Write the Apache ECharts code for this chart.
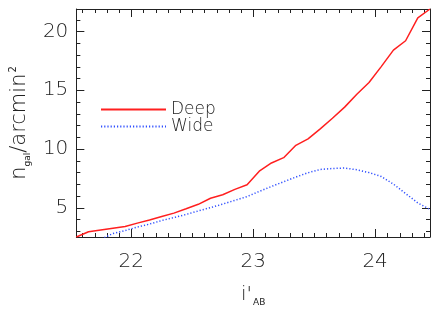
<!DOCTYPE html>
<html>
<head>
<meta charset="utf-8">
<script src="https://cdn.jsdelivr.net/npm/echarts@6/dist/echarts.min.js"></script>
<style>html,body{margin:0;padding:0;background:#fff}#c{width:436px;height:312px}</style>
</head>
<body>
<div id="c"></div>
<script>
const magnitudes = [21.55, 21.65, 21.75, 21.85, 21.95, 22.05, 22.15, 22.25, 22.35, 22.45,
  22.55, 22.65, 22.75, 22.85, 22.95, 23.05, 23.15, 23.25, 23.35, 23.45,
  23.55, 23.65, 23.75, 23.85, 23.95, 24.05, 24.15, 24.25, 24.35, 24.45];
const deepDensity = [2.5, 2.95, 3.1, 3.25, 3.4, 3.68, 3.95, 4.25, 4.53, 4.9,
  5.28, 5.8, 6.09, 6.55, 6.95, 8.1, 8.8, 9.25, 10.3, 10.85,
  11.7, 12.6, 13.55, 14.65, 15.65, 17.0, 18.4, 19.2, 21.15, 21.9];
const wideDensity = [1.9, 2.1, 2.3, 2.8, 3.05, 3.35, 3.6, 3.9, 4.15, 4.42,
  4.72, 5.0, 5.3, 5.62, 5.94, 6.38, 6.8, 7.2, 7.6, 7.97,
  8.25, 8.33, 8.37, 8.22, 7.98, 7.65, 7.0, 6.2, 5.4, 4.85];
const seriesNames = ['Deep', 'Wide'];
const xTickLabels = [22, 23, 24];
const yTickLabels = [5, 10, 15, 20];
const xRange = [21.55, 24.45];
const yRange = [2.5, 21.9];

// minor tick positions (every 0.1 mag on x, every 1 on y)
const xMinor = [];
for (let k = 216; k <= 244; k++) { if (k % 10 !== 0) xMinor.push(k / 10); }
const yMinor = [];
for (let k = 3; k <= 21; k++) { if (k % 5 !== 0) yMinor.push(k); }

const MAJOR_LEN = 8, MINOR_LEN = 4;
const xTickData = xTickLabels.map(v => [v, MAJOR_LEN]).concat(xMinor.map(v => [v, MINOR_LEN]));
const yTickData = yTickLabels.map(v => [v, MAJOR_LEN]).concat(yMinor.map(v => [v, MINOR_LEN]));

const FONT = 'DejaVu Sans';
const INK = '#222';
const chart = echarts.init(document.getElementById('c'), null, {renderer: 'canvas'});

function baseAxis(range, pos) {
  return {
    type: 'value', position: pos, min: range[0], max: range[1],
    axisLine: {show: true, onZero: false, lineStyle: {color: INK, width: 1}},
    axisTick: {show: false},
    minorTick: {show: false},
    splitLine: {show: false},
    axisLabel: {show: false},
    axisPointer: {show: false}
  };
}

const xMain = baseAxis(xRange, 'bottom');
xMain.axisLabel = {show: true, customValues: xTickLabels, margin: 15, color: INK,
  fontFamily: FONT, fontSize: 20, fontWeight: 200, formatter: v => String(Math.round(v))};
xMain.name = "{i|i'}{s|AB}";
xMain.nameLocation = 'middle';
xMain.nameGap = 48;
xMain.nameTextStyle = {rich: {
  i: {fontFamily: FONT, fontSize: 20, fontWeight: 200, color: INK, lineHeight: 22, verticalAlign: 'top'},
  s: {fontFamily: FONT, fontSize: 9, color: INK, lineHeight: 22, verticalAlign: 'bottom', padding: [0, 0, 0, 1]}
}};

const yMain = baseAxis(yRange, 'left');
yMain.axisLabel = {show: true, customValues: yTickLabels, margin: 8, color: INK,
  fontFamily: FONT, fontSize: 20, fontWeight: 200, formatter: v => String(Math.round(v))};
yMain.name = '{n|n}{s|gal}{n|/arcmin}{p|2}';
yMain.nameLocation = 'middle';
yMain.nameGap = 40;
yMain.nameRotate = 90;
yMain.nameTextStyle = {rich: {
  n: {fontFamily: FONT, fontSize: 21, fontWeight: 200, color: INK, lineHeight: 24, verticalAlign: 'middle'},
  s: {fontFamily: FONT, fontSize: 9, color: INK, lineHeight: 24, verticalAlign: 'bottom'},
  p: {fontFamily: FONT, fontSize: 10, color: INK, lineHeight: 24, verticalAlign: 'top', padding: [0, 0, 0, 1]}
}};

function tickLine(x1, y1, x2, y2) {
  return {type: 'line', shape: {x1: x1, y1: y1, x2: x2, y2: y2}, style: {stroke: INK, lineWidth: 1}};
}

chart.setOption({
  animation: false,
  backgroundColor: '#fff',
  grid: {left: 60, right: 6, top: 9, bottom: 70, containLabel: false},
  xAxis: [xMain, baseAxis(xRange, 'top')],
  yAxis: [yMain, baseAxis(yRange, 'right')],
  legend: {
    left: 95, top: 96, orient: 'vertical', itemWidth: 65, itemHeight: 17, itemGap: 0,
    itemStyle: {opacity: 0},
    textStyle: {fontFamily: FONT, fontSize: 17, fontWeight: 200, color: INK, lineHeight: 17},
    data: seriesNames
  },
  series: [
    {name: seriesNames[0], type: 'line', xAxisIndex: 0, yAxisIndex: 0, symbol: 'none', clip: true,
      lineStyle: {color: '#ff1f1f', width: 1.5, type: 'solid'}, itemStyle: {color: '#ff1f1f'},
      data: magnitudes.map((m, i) => [m, deepDensity[i]])},
    {name: seriesNames[1], type: 'line', xAxisIndex: 0, yAxisIndex: 0, symbol: 'none', clip: true,
      lineStyle: {color: '#2f4fff', width: 1.5, type: [1.2, 2]}, itemStyle: {color: '#2f4fff'},
      data: magnitudes.map((m, i) => [m, wideDensity[i]])},
    {name: 'xticks', type: 'custom', xAxisIndex: 0, yAxisIndex: 0, silent: true, clip: false,
      encode: {x: 0}, data: xTickData,
      renderItem: function (params, api) {
        const cs = params.coordSys;
        const px = Math.round(api.coord([api.value(0), yRange[0]])[0]) + 0.5;
        const len = api.value(1);
        const bottom = cs.y + cs.height, top = cs.y;
        return {type: 'group', children: [
          tickLine(px, bottom, px, bottom - len),
          tickLine(px, top, px, top + len)
        ]};
      }},
    {name: 'yticks', type: 'custom', xAxisIndex: 0, yAxisIndex: 0, silent: true, clip: false,
      encode: {y: 0}, data: yTickData,
      renderItem: function (params, api) {
        const cs = params.coordSys;
        const py = Math.round(api.coord([xRange[0], api.value(0)])[1]) + 0.5;
        const len = api.value(1);
        const left = cs.x, right = cs.x + cs.width;
        return {type: 'group', children: [
          tickLine(left, py, left + len, py),
          tickLine(right, py, right - len, py)
        ]};
      }}
  ]
});
</script>
</body>
</html>
